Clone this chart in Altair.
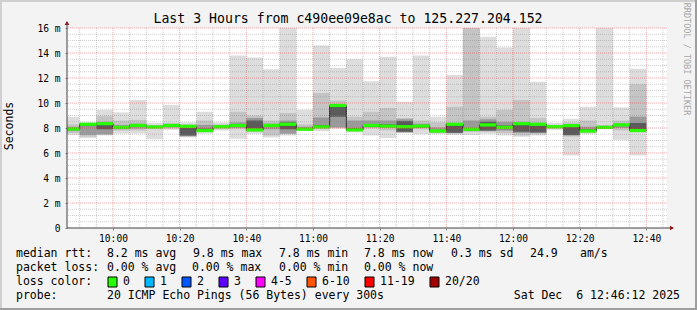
import altair as alt
import pandas as pd

# ---------------- data ----------------
FIRST_SLOT = "09:45"      # start of first 5-minute slot
SLOT_MIN = 5
RANGE_START = "09:46:12"
RANGE_END = "12:46:12"

median = [7.92, 8.30, 8.35, 8.05, 8.20, 8.08, 8.20, 8.13, 7.80, 8.10,
          8.20, 7.85, 8.20, 8.30, 7.90, 8.10, 9.80, 7.85, 8.20, 8.15,
          8.10, 8.15, 7.76, 8.30, 7.90, 8.25, 8.05, 8.35, 8.30, 8.10,
          8.20, 7.76, 8.05, 8.25, 7.80]
ping_min = [7.45, 7.20, 7.40, 7.55, 7.55, 7.10, 7.85, 7.25, 7.55, 7.80,
            7.15, 7.55, 7.25, 7.40, 7.75, 7.75, 7.95, 7.65, 7.40, 7.20,
            7.60, 7.50, 7.50, 7.45, 7.45, 7.55, 7.40, 7.30, 7.40, 7.85,
            5.80, 7.50, 7.90, 7.05, 5.80]
ping_max = [8.90, 8.45, 9.45, 9.25, 10.25, 8.40, 9.85, 8.45, 9.30, 8.45,
            13.80, 13.65, 12.70, 16.00, 9.45, 14.60, 12.80, 13.50, 11.75, 13.70,
            10.10, 13.80, 8.90, 12.25, 16.00, 15.30, 14.45, 16.00, 11.70, 8.40,
            8.75, 9.70, 16.00, 9.65, 12.75]
mid_lo = [7.60, 7.30, 7.45, 7.80, 7.80, 7.90, 7.95, 7.30, 7.70, 7.90,
          7.90, 7.70, 7.40, 7.50, 7.85, 7.90, 8.00, 7.75, 7.95, 7.80,
          7.65, 7.90, 7.60, 7.55, 7.70, 7.70, 7.60, 7.40, 7.50, 7.95,
          7.30, 7.65, 8.00, 7.80, 7.70]
mid_hi = [8.30, 8.40, 8.95, 8.60, 8.65, 8.25, 8.40, 8.30, 8.60, 8.30,
          9.30, 9.00, 8.60, 9.20, 8.30, 10.80, 10.20, 8.90, 9.30, 9.60,
          8.80, 8.60, 8.45, 9.70, 16.00, 8.90, 9.45, 10.25, 8.80, 8.25,
          8.45, 8.60, 8.25, 8.60, 11.50]
dark_lo = [7.75, 7.45, 7.50, 7.90, 7.95, 8.00, 8.05, 7.35, 7.75, 8.00,
           8.00, 7.75, 7.90, 7.55, 7.88, 8.00, 8.05, 7.78, 8.05, 8.00,
           7.65, 8.00, 7.65, 7.60, 7.75, 7.75, 7.80, 7.60, 7.60, 8.00,
           7.40, 7.70, 8.00, 8.00, 7.75]
dark_hi = [8.10, 8.35, 8.50, 8.25, 8.35, 8.15, 8.30, 8.10, 8.25, 8.20,
           8.45, 8.80, 8.35, 8.60, 8.10, 8.85, 9.75, 8.60, 8.60, 8.60,
           8.70, 8.35, 8.05, 8.40, 8.60, 8.70, 8.50, 8.50, 8.40, 8.15,
           8.20, 8.10, 8.15, 8.35, 8.90]
core_lo = [7.85, 8.15, 7.90, 7.95, 8.10, 8.05, 8.12, 7.40, 7.78, 8.05,
           8.10, 7.85, 8.10, 7.90, 7.88, 8.05, 8.90, 7.80, 8.10, 8.08,
           7.70, 8.05, 7.68, 7.62, 7.80, 7.80, 7.90, 7.70, 7.65, 8.05,
           7.45, 7.70, 8.02, 8.15, 7.85]
core_hi = [8.00, 8.35, 8.40, 8.15, 8.30, 8.12, 8.25, 8.00, 7.95, 8.15,
           8.30, 8.60, 8.28, 8.45, 7.95, 8.25, 9.75, 8.00, 8.30, 8.30,
           8.55, 8.25, 7.85, 8.25, 8.00, 8.50, 8.20, 8.30, 8.20, 8.12,
           8.10, 7.90, 8.10, 8.30, 8.40]

y_ticks = [0, 2, 4, 6, 8, 10, 12, 14, 16]
x_tick_labels = ["10:00", "10:20", "10:40", "11:00", "11:20", "11:40", "12:00", "12:20", "12:40"]

title_text = "Last 3 Hours from c490ee09e8ac to 125.227.204.152"
rtt_items = ["median rtt:", "8.2 ms avg", "9.8 ms max", "7.8 ms min", "7.8 ms now", "0.3 ms sd", "24.9", "am/s"]
loss_items = ["packet loss:", "0.00 % avg", "0.00 % max", "0.00 % min", "0.00 % now"]
loss_labels = ["0", "1", "2", "3", "4-5", "6-10", "11-19", "20/20"]
loss_colors = ["#26ff00", "#00b8ff", "#0059ff", "#5e00ff", "#ff00ff", "#ff5500", "#ff0000", "#a10000"]
probe_items = ["probe:", "20 ICMP Echo Pings (56 Bytes) every 300s", "Sat Dec\u00a0 6 12:46:12 2025"]

# ---------------- helpers ----------------
def to_min(s):
    parts = [int(p) for p in s.split(":")]
    v = parts[0] * 60 + parts[1]
    if len(parts) > 2:
        v += parts[2] / 60.0
    return v

base = to_min(FIRST_SLOT)
starts = [base + SLOT_MIN * i for i in range(len(median))]
ends = [s + SLOT_MIN for s in starts]
x_domain = [to_min(RANGE_START), to_min(RANGE_END)]
x_tick_vals = [to_min(t) for t in x_tick_labels]

MONO = "DejaVu Sans Mono"
W, H = 600, 200
PAD_L, PAD_T = 67, 28

layers_def = [
    ("l1", ping_min, ping_max, "#dddddd"),
    ("l2", mid_lo, mid_hi, "#c4c4c4"),
    ("l3", dark_lo, dark_hi, "#9a9a9a"),
    ("l4", core_lo, core_hi, "#5a5a5a"),
]
rows = []
for name, lo, hi, _ in layers_def:
    for i in range(len(median)):
        rows.append({"layer": name, "t0": starts[i], "t1": ends[i], "lo": lo[i], "hi": hi[i]})
smoke_df = pd.DataFrame(rows)

med_df = pd.DataFrame({"t0": starts, "t1": ends, "med": median})
step_df = pd.DataFrame({"t": starts + [ends[-1]], "med": median + [median[-1]]})

xs = alt.Scale(domain=x_domain, nice=False, zero=False)
ys = alt.Scale(domain=[0, 16], nice=False, zero=True)

x_axis = alt.Axis(values=x_tick_vals, grid=False, domain=False, tickSize=2, tickColor="#888888",
                  labelOverlap=False,
                  labelExpr="floor(datum.value/60) + ':' + (datum.value % 60 < 10 ? '0' : '') + (datum.value % 60)",
                  labelFont=MONO, labelFontSize=9.6, labelColor="#000000", labelPadding=3, title=None)
y_axis = alt.Axis(values=y_ticks, grid=False, domain=False, tickSize=2, tickColor="#888888",
                  labelOverlap=False,
                  labelExpr="datum.value == 0 ? '0' : datum.value + ' m'",
                  labelFont=MONO, labelFontSize=9.6, labelColor="#000000", labelPadding=5, title=None)

def X(f):
    return alt.X(f, scale=xs, axis=x_axis)

def Y(f):
    return alt.Y(f, scale=ys, axis=y_axis)

smoke = alt.Chart(smoke_df).mark_rect(clip=True).encode(
    x=X("t0:Q"), x2="t1:Q", y=Y("lo:Q"), y2="hi:Q",
    color=alt.Color("layer:N", scale=alt.Scale(domain=[l[0] for l in layers_def],
                                               range=[l[3] for l in layers_def]), legend=None),
    order=alt.Order("layer:N"),
)

step_line = alt.Chart(step_df).mark_line(interpolate="step-after", color="#202020",
                                         strokeWidth=1, clip=True).encode(
    x=X("t:Q"), y=Y("med:Q"))

green = alt.Chart(med_df).transform_calculate(
    a="datum.med - 0.13", b="datum.med + 0.13"
).mark_rect(color=loss_colors[0], clip=True).encode(
    x=X("t0:Q"), x2="t1:Q", y=Y("a:Q"), y2="b:Q")

# grid (drawn over the data as rrdtool does)
minor_v = [v for v in range(int(x_domain[0]) + 1, int(x_domain[1]) + 1) if v % 5 == 0 and v % 20 != 0]
major_v = [v for v in range(int(x_domain[0]) + 1, int(x_domain[1]) + 1) if v % 20 == 0]
minor_h = [k / 2 for k in range(1, 32) if k % 4 != 0]
major_h = [k for k in range(2, 17, 2)]

MINOR_C = "rgba(130,130,130,0.40)"
MAJOR_C = "rgba(230,40,40,0.40)"
g1 = alt.Chart(pd.DataFrame({"x": minor_v})).mark_rule(strokeDash=[1, 1], color=MINOR_C).encode(x=X("x:Q"))
g2 = alt.Chart(pd.DataFrame({"y": minor_h})).mark_rule(strokeDash=[1, 1], color=MINOR_C).encode(y=Y("y:Q"))
g3 = alt.Chart(pd.DataFrame({"x": major_v})).mark_rule(strokeDash=[1, 1], color=MAJOR_C).encode(x=X("x:Q"))
g4 = alt.Chart(pd.DataFrame({"y": major_h})).mark_rule(strokeDash=[1, 1], color=MAJOR_C).encode(y=Y("y:Q"))

one = alt.Data(values=[{"k": 1}])

def vline(x, y1, y2, color, w=1):
    return alt.Chart(one).mark_rule(color=color, strokeWidth=w).encode(
        x=alt.value(x), y=alt.value(y1), y2=alt.value(y2))

def hline(x1, x2, y, color, w=1):
    return alt.Chart(one).mark_rule(color=color, strokeWidth=w).encode(
        x=alt.value(x1), x2=alt.value(x2), y=alt.value(y))

def txt(s, x, y, size=11.5, align="left", color="#000000", angle=0):
    kw = dict(align=align, baseline="middle", font=MONO, fontSize=size, color=color)
    if angle:
        kw["angle"] = angle
    return alt.Chart(one).mark_text(**kw).encode(
        x=alt.value(x - PAD_L), y=alt.value(y - PAD_T), text=alt.value(s))

deco = []
# axis lines + arrows
deco.append(vline(0, -6, H, "#404040"))
deco.append(hline(0, W + 6, H, "#404040"))
deco.append(alt.Chart(one).mark_point(shape="triangle-up", filled=True, color="#8b1a1a", size=22, opacity=1).encode(
    x=alt.value(0), y=alt.value(-5)))
deco.append(alt.Chart(one).mark_point(shape="triangle-right", filled=True, color="#8b1a1a", size=22, opacity=1).encode(
    x=alt.value(W + 5), y=alt.value(H)))

# frame (shade)
deco.append(hline(-PAD_L, 697 - PAD_L, -PAD_T + 1, "#cfcfcf", 2))
deco.append(vline(-PAD_L + 1, -PAD_T, 310 - PAD_T, "#cfcfcf", 2))
deco.append(hline(-PAD_L, 697 - PAD_L, 310 - PAD_T - 1, "#9e9e9e", 2))
deco.append(vline(697 - PAD_L - 1, -PAD_T, 310 - PAD_T, "#9e9e9e", 2))

# texts
deco.append(txt(title_text, 348, 19, size=13.2, align="center"))
deco.append(txt("Seconds", 10, 126, size=11.5, align="center", angle=270))
deco.append(txt("RRDTOOL / TOBI OETIKER", 687, 59, size=8.5, align="center", color="#a8a8a8", angle=90))

rtt_x = [16, 107, 193, 279, 364, 451, 530, 580]
for s, x in zip(rtt_items, rtt_x):
    deco.append(txt(s, x, 254))
loss_x = [16, 107, 192, 279, 364]
for s, x in zip(loss_items, loss_x):
    deco.append(txt(s, x, 268))
deco.append(txt("loss color:", 16, 282))
box_x = [108, 145, 182, 219, 256, 307, 365, 430]
for lab, col, bx in zip(loss_labels, loss_colors, box_x):
    deco.append(alt.Chart(one).mark_rect(color=col, stroke="#000000", strokeWidth=1).encode(
        x=alt.value(bx - PAD_L), x2=alt.value(bx + 9 - PAD_L),
        y=alt.value(277 - PAD_T), y2=alt.value(287 - PAD_T)))
    deco.append(txt(lab, bx + 15, 282))
deco.append(txt(probe_items[0], 16, 296))
deco.append(txt(probe_items[1], 107, 296))
deco.append(txt(probe_items[2], 680, 296, align="right"))

chart = alt.layer(smoke, step_line, green, g1, g2, g3, g4, *deco).properties(
    width=W, height=H,
    autosize=alt.AutoSizeParams(type="none"),
    padding={"left": PAD_L, "top": PAD_T, "right": 697 - PAD_L - W, "bottom": 310 - PAD_T - H},
    background="#f3f3f3",
).configure_view(fill="#ffffff", stroke=None).configure_axis(labelOverlap=False)

chart.save("out.html", embed_options={"renderer": "svg", "actions": False})
